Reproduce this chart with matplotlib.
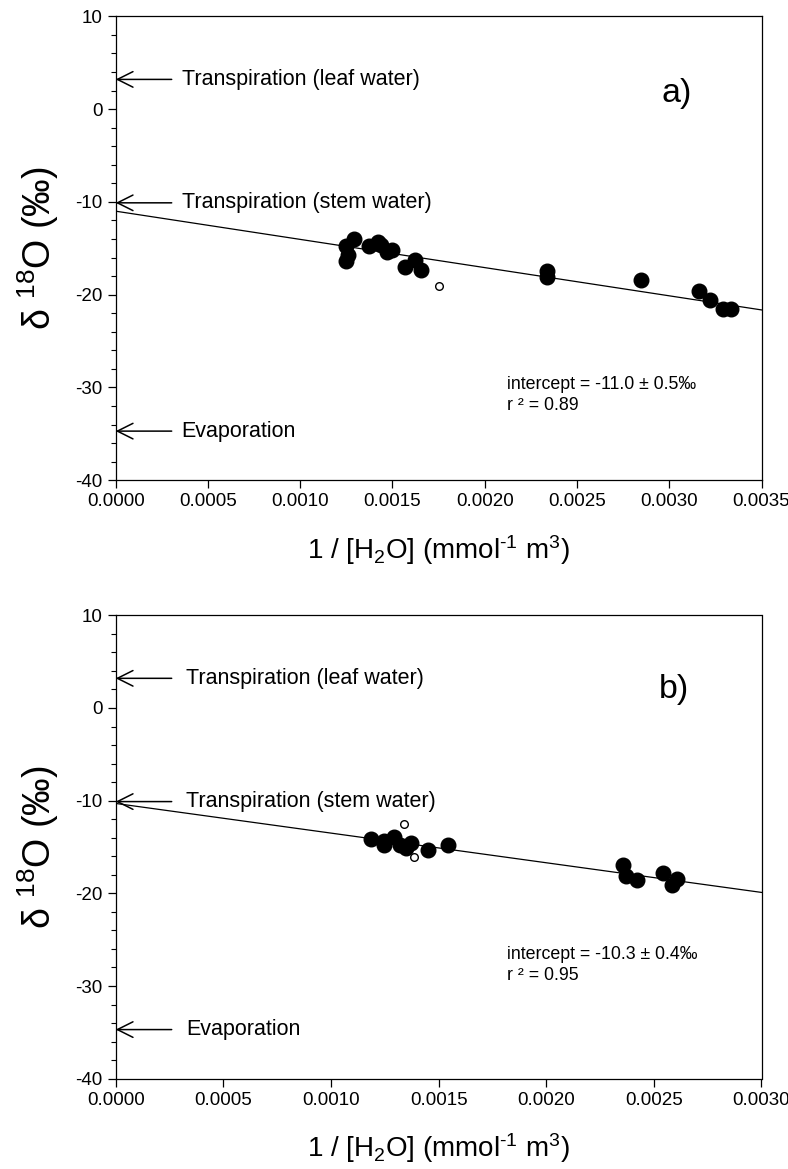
import matplotlib
matplotlib.use('Agg')
import matplotlib.pyplot as plt
from matplotlib.ticker import MultipleLocator
import numpy as np

plt.rcParams['font.family'] = ['Liberation Sans', 'DejaVu Sans']
plt.rcParams['mathtext.fontset'] = 'custom'
plt.rcParams['mathtext.rm'] = 'Liberation Sans'
plt.rcParams['mathtext.default'] = 'regular'
plt.rcParams['axes.unicode_minus'] = False

# -----------------------
# DATA
# -----------------------
# panel a) filled points
xa_fill = [0.001246, 0.00126, 0.00125, 0.00129, 0.001374, 0.00142, 0.00144,
           0.001473, 0.0015, 0.00157, 0.00162, 0.001657,
           0.002335, 0.002335, 0.002846, 0.003162, 0.00322, 0.003291, 0.003332]
ya_fill = [-16.4, -15.7, -14.8, -14.0, -14.75, -14.35, -14.6,
           -15.36, -15.2, -17.0, -16.3, -17.3,
           -17.5, -18.1, -18.4, -19.6, -20.6, -21.5, -21.5]
xa_open = [0.00175]
ya_open = [-19.1]
slope_a, intercept_a = -3040.0, -11.0
xmax_a = 0.0035

# panel b) filled points
xb_fill = [0.001187, 0.001245, 0.001248, 0.001291, 0.001322, 0.00135, 0.001373,
           0.001451, 0.001542,
           0.002356, 0.002372, 0.002423, 0.002542, 0.002606, 0.002586]
yb_fill = [-14.1, -14.35, -14.75, -13.9, -14.75, -15.1, -14.55,
           -15.35, -14.8,
           -16.95, -18.1, -18.6, -17.85, -18.5, -19.1]
xb_open = [0.001341, 0.001387]
yb_open = [-12.55, -16.1]
slope_b, intercept_b = -3200.0, -10.3
xmax_b = 0.0030

# arrows for source end-members
source_labels = ['Transpiration (leaf water)', 'Transpiration (stem water)', 'Evaporation']
source_values = [3.2, -10.1, -34.7]

stats_a = 'intercept = -11.0 ± 0.5‰\nr ² = 0.89'
stats_b = 'intercept = -10.3 ± 0.4‰\nr ² = 0.95'

# -----------------------
# FIGURE
# -----------------------
W, H = 788, 1169
fig = plt.figure(figsize=(W / 100, H / 100), dpi=100)
ax_a = fig.add_axes([115.7 / W, 1 - 480.3 / H, 645.8 / W, 464 / H])
ax_b = fig.add_axes([115.7 / W, 1 - 1078.7 / H, 645.8 / W, 463.4 / H])


def draw_panel(ax, xf, yf, xo, yo, slope, intercept, xmax, stats, letter, text_x, stats_y, letter_pos):
    xl = np.array([0, xmax])
    ax.plot(xl, intercept + slope * xl, color='black', lw=0.9, zorder=2)
    ax.plot(xf, yf, 'o', color='black', ms=10.5, zorder=3)
    ax.plot(xo, yo, 'o', mfc='white', mec='black', mew=1.0, ms=5.5, zorder=3)

    for lab, val in zip(source_labels, source_values):
        ax.annotate('', xy=(0, val), xytext=(0.0867, val),
                    xycoords=('axes fraction', 'data'), textcoords=('axes fraction', 'data'),
                    arrowprops=dict(arrowstyle='->', lw=1.1, color='black',
                                    mutation_scale=28, shrinkA=0, shrinkB=0))
        ax.text(text_x, val, lab, transform=ax.get_yaxis_transform(),
                fontsize=15.5, va='center', ha='left')

    ax.text(0.606, stats_y, stats, transform=ax.transAxes, fontsize=12.8,
            va='center', ha='left', linespacing=1.3)
    ax.text(letter_pos[0], letter_pos[1], letter, transform=ax.transAxes,
            fontsize=24.5, va='center', ha='center')

    ax.set_xlim(0, xmax)
    ax.set_ylim(-40, 10)
    ax.xaxis.set_major_locator(MultipleLocator(0.0005))
    ax.yaxis.set_major_locator(MultipleLocator(10))
    ax.yaxis.set_minor_locator(MultipleLocator(2))
    ax.xaxis.set_major_formatter(plt.FormatStrFormatter('%.4f'))
    ax.tick_params(axis='both', which='major', direction='out', length=6, width=0.9,
                   labelsize=13.5, top=False, right=False)
    ax.tick_params(axis='y', which='minor', direction='out', length=3.5, width=0.8)
    for s in ax.spines.values():
        s.set_linewidth(0.9)
    ax.set_xlabel(r'1 / [H$_2$O] (mmol$^{\text{-}1}$ m$^3$)', fontsize=20, labelpad=16)
    ax.set_ylabel(r'δ $^{18}$O (‰)', fontsize=27, labelpad=10)


draw_panel(ax_a, xa_fill, ya_fill, xa_open, ya_open, slope_a, intercept_a, xmax_a,
           stats_a, 'a)', 0.102, 0.183, (0.868, 0.833))
draw_panel(ax_b, xb_fill, yb_fill, xb_open, yb_open, slope_b, intercept_b, xmax_b,
           stats_b, 'b)', 0.109, 0.245, (0.865, 0.839))

fig.savefig('out.png', dpi=100)
